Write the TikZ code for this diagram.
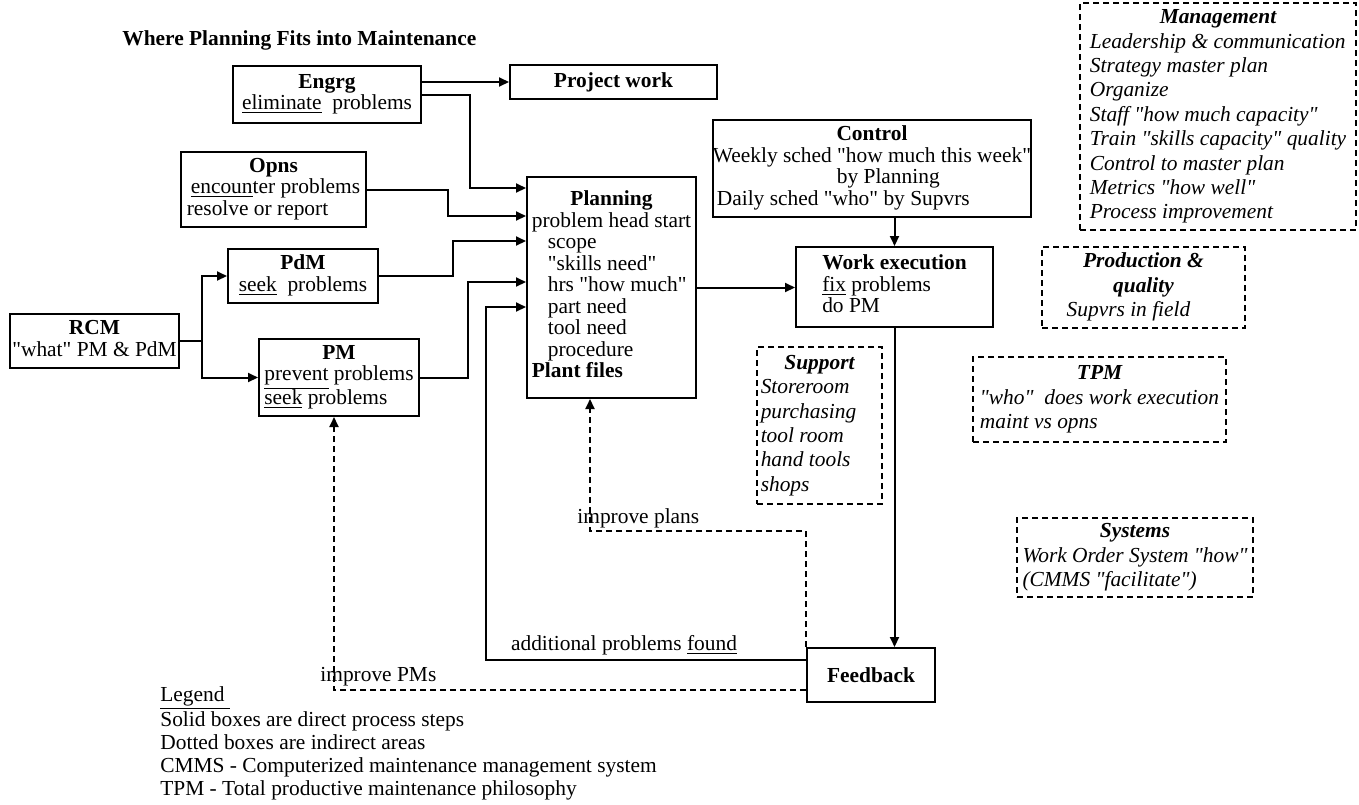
\documentclass[tikz,border=0pt]{standalone}
\usepackage{fontspec}
\newfontfamily\lserif{Liberation Serif}
\usetikzlibrary{arrows.meta, positioning, calc}

\newcommand{\hd}[1]{\multicolumn{1}{@{}c@{}}{\bfseries #1}}
\newcommand{\undl}[1]{\underline{#1}}

\tikzset{
  procbox/.style={draw, line width=1pt, inner sep=0pt, font=\lserif\fontsize{10.7}{10.75}\selectfont},
  areabox/.style={draw, line width=0.8pt, dash pattern=on 3pt off 2pt, inner sep=0pt, font=\lserif\fontsize{10.7}{12.2}\selectfont\itshape},
  flow/.style={draw, line width=1pt, -{Triangle[length=5pt,width=4.5pt]}},
  fback/.style={flow, dash pattern=on 3pt off 2pt},
  lbl/.style={inner sep=1pt, font=\lserif\fontsize{10.7}{10.75}\selectfont}
}

\begin{document}
\lserif
\begin{tikzpicture}[x=0.5pt, y=-0.5pt]
\useasboundingbox (0,0) rectangle (1359,804);

% title
\node[lbl, anchor=west, font=\lserif\fontsize{10.7}{10.75}\selectfont\bfseries] (title) at (120,40) {Where Planning Fits into Maintenance};

% direct process steps
\node[procbox, minimum width=94pt, minimum height=28.5pt] (engrg) at (327,94.5)
  {\begin{tabular}{@{}l@{}}\hd{Engrg}\\ \undl{eliminate}\ \ problems\end{tabular}};
\node[procbox, minimum width=103.5pt, minimum height=17pt, font=\lserif\fontsize{10.7}{10.75}\selectfont\bfseries] (proj) at (613.5,82) {Project work};
\node[procbox, minimum width=92.5pt, minimum height=37.5pt] (opns) at (273.5,189.5)
  {\begin{tabular}{@{}l@{}}\hd{Opns}\\ \hspace*{2pt}\undl{encoun}ter problems\\ resolve or report\end{tabular}};
\node[procbox, minimum width=75pt, minimum height=27pt] (pdm) at (303,276)
  {\begin{tabular}{@{}l@{}}\hd{PdM}\\ \undl{seek}\ \ problems\end{tabular}};
\node[procbox, minimum width=80pt, minimum height=38.5pt] (pm) at (339,377.5)
  {\begin{tabular}{@{}l@{}}\hd{PM}\\ \undl{prevent} problems\\ \undl{seek} problems\end{tabular}};
\node[procbox, minimum width=84.5pt, minimum height=27pt] (rcm) at (94.5,341)
  {\begin{tabular}{@{}l@{}}\hd{RCM}\\ "what" PM \& PdM\end{tabular}};
\node[procbox, minimum width=84.5pt, minimum height=110.5pt] (plan) at (611.5,287.5)
  {\begin{tabular}{@{}l@{}}\hd{Planning}\\ problem head start\\
   \hspace*{8pt}scope\\ \hspace*{8pt}"skills need"\\ \hspace*{8pt}hrs "how much"\\
   \hspace*{8pt}part need\\ \hspace*{8pt}tool need\\ \hspace*{8pt}procedure\\
   \textbf{Plant files}\end{tabular}};
\node[procbox, minimum width=144pt, minimum height=48.5pt] (ctrl) at (872,168.5)
  {\begin{tabular}{@{}l@{}}\hd{Control}\\ Weekly sched "how much this week"\\
   \hspace*{62pt}by Planning\\ \hspace*{2pt}Daily sched "who" by Supvrs\end{tabular}};
\node[procbox, minimum width=98.5pt, minimum height=40pt] (work) at (894.5,287)
  {\begin{tabular}{@{}l@{}}\hd{Work execution}\\ \undl{fix} problems\\ do PM\end{tabular}};
\node[procbox, minimum width=64pt, minimum height=27pt, font=\lserif\fontsize{10.7}{10.75}\selectfont\bfseries] (feed) at (871,675) {Feedback};

% indirect areas
\node[areabox, minimum width=138pt, minimum height=113.5pt] (mgmt) at (1218,116.5)
  {\begin{tabular}{@{}l@{}}\hd{Management}\\ Leadership \& communication\\ Strategy master plan\\
   Organize\\ Staff "how much capacity"\\ Train "skills capacity" quality\\
   Control to master plan\\ Metrics "how well"\\ Process improvement\end{tabular}};
\node[areabox, minimum width=101.5pt, minimum height=40.5pt] (prod) at (1143.5,287.5)
  {\begin{tabular}{@{}l@{\hspace{15pt}}}\hd{Production \&}\\ \hd{quality}\\ Supvrs in field\end{tabular}};
\node[areabox, minimum width=126.5pt, minimum height=42.5pt] (tpm) at (1099.5,399.5)
  {\begin{tabular}{@{}l@{}}\hd{TPM}\\ "who"\ \ does work execution\\ maint vs opns\end{tabular}};
\node[areabox, minimum width=62.5pt, minimum height=78.5pt] (supp) at (819.5,425.5)
  {\begin{tabular}{@{}l@{\hspace{11pt}}}\hd{Support}\\ Storeroom\\ purchasing\\ tool room\\ hand tools\\ shops\end{tabular}};
\node[areabox, minimum width=118pt, minimum height=39.5pt] (sys) at (1135,557.5)
  {\begin{tabular}{@{}l@{}}\hd{Systems}\\ Work Order System "how"\\ (CMMS "facilitate")\end{tabular}};

% inputs to planning
\coordinate (inE) at ([yshift=-6pt]plan.north west);
\coordinate (inO) at ([yshift=-20pt]plan.north west);
\coordinate (inD) at ([yshift=-32.5pt]plan.north west);
\coordinate (inP) at ([yshift=-53pt]plan.north west);
\coordinate (inF) at ([yshift=-65.5pt]plan.north west);

\draw[flow] (engrg.east |- proj.west) -- (proj.west);
\draw[flow] (engrg.east) -- ++(48,0) |- (inE);
\draw[flow] (opns.east) -- ++(81,0) |- (inO);
\draw[flow] (pdm.east) -- ++(74,0) |- (inD);
\draw[flow] (pm.east) -- ++(48,0) |- (inP);
\draw[line width=1pt] (rcm.east) -- ++(22,0) coordinate (split);
\draw[flow] (split) |- (pdm.west);
\draw[flow] (split) |- (pm.west);

% execution chain
\draw[flow] (plan.east) -- (plan.east -| work.west);
\draw[flow] (ctrl.south -| work.north) -- (work.north);
\draw[flow] (work.south) -- (work.south |- feed.north);

% feedback loops
\draw[flow] ([yshift=7.5pt]feed.west) -- ++(-320,0) |- (inF);
\node[lbl, anchor=south] (found) at (624,657) {additional problems \undl{found}};
\draw[fback] ([yshift=-7.5pt]feed.west) -| ([xshift=-2.5pt]pm.south);
\node[lbl, anchor=south west] (impm) at (318,688) {improve PMs};
\draw[fback] (feed.north west) -- ++(0,-116) -| ([xshift=-10.75pt]plan.south);
\node[lbl, anchor=south west] (impl) at (575,530) {improve plans};

% legend
\node[lbl, anchor=north west, align=left, font=\lserif\fontsize{10.7}{11.5}\selectfont] (legend) at (158,684)
  {\undl{Legend\ }\\ Solid boxes are direct process steps\\ Dotted boxes are indirect areas\\
   CMMS - Computerized maintenance management system\\ TPM - Total productive maintenance philosophy};
\end{tikzpicture}
\end{document}
